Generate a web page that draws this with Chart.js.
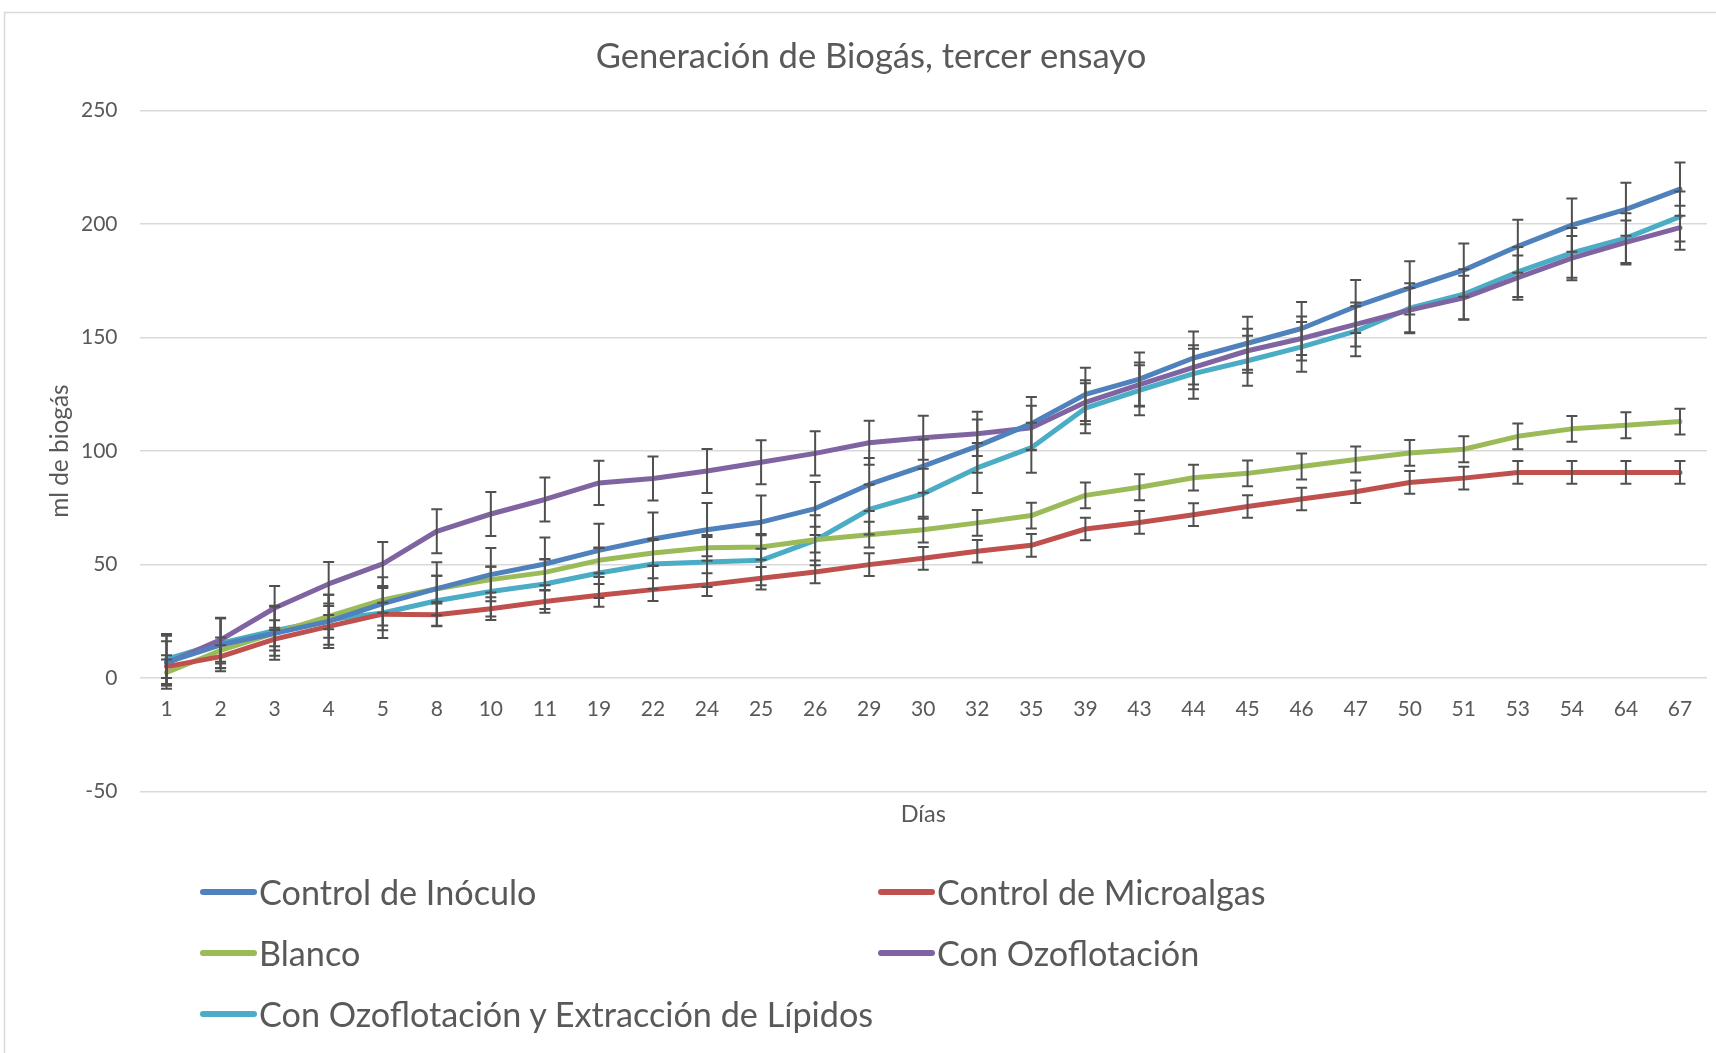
<!DOCTYPE html>
<html>
<head>
<meta charset="utf-8">
<script src="https://cdn.jsdelivr.net/npm/chart.js@4.4.0/dist/chart.umd.min.js"></script>
<style>
  html, body { margin: 0; padding: 0; background: #fff; }
  #wrap { position: relative; width: 1716px; height: 1053px; overflow: hidden; }
  #legend .item {
    position: absolute; display: flex; align-items: center;
    font-family: Lato, sans-serif; font-size: 34.2px; color: #595959;
    height: 44px; line-height: 44px; white-space: nowrap;
  }
  #legend .swatch { width: 57px; height: 6px; border-radius: 3px; margin-right: 2px; }
</style>
</head>
<body>
<div id="wrap">
  <canvas id="chart" width="1716" height="1053"></canvas>
  <div id="legend"></div>
</div>
<script>
// days (categories)
var days = ['1', '2', '3', '4', '5', '8', '10', '11', '19', '22', '24', '25', '26', '29', '30',
            '32', '35', '39', '43', '44', '45', '46', '47', '50', '51', '53', '54', '64', '67'];

var seriesNames = ['Control de Inóculo', 'Control de Microalgas', 'Blanco', 'Con Ozoflotación',
                   'Con Ozoflotación y Extracción de Lípidos'];
var seriesColors = ['#4F81BD', '#C0504D', '#9BBB59', '#8064A2', '#4BACC6'];

// ml of biogas per series
var controlInoculo = [7, 14.7, 19.8, 25, 32.8, 39.4, 45.6, 50.3, 56.3, 61.3, 65.4, 68.7, 74.7, 85.3, 93.4,
                      102.2, 112.1, 125, 131.7, 141, 147.5, 154, 163.7, 171.9, 179.7, 190.2, 199.5, 206.5, 215.4];
var controlMicroalgas = [5.1, 9.5, 17.2, 22.8, 28.2, 27.9, 30.6, 33.8, 36.5, 39, 41.2, 44, 46.8, 50, 52.8,
                         55.9, 58.5, 65.7, 68.6, 72, 75.6, 78.9, 82.1, 86.2, 88.1, 90.6, 90.6, 90.6, 90.6];
var blanco = [2.5, 12.2, 19.8, 27.2, 34.5, 39.4, 43.4, 46.6, 51.9, 55.1, 57.4, 57.8, 61, 63.2, 65.4,
              68.4, 71.6, 80.5, 84.1, 88.3, 90.2, 93.2, 96.3, 99.2, 100.8, 106.5, 109.8, 111.4, 113];
var conOzoflotacion = [6.6, 16.9, 30.9, 41.5, 50.3, 64.7, 72.3, 78.7, 86, 87.9, 91.2, 95.1, 99, 103.7, 105.9,
                       107.6, 110.3, 121.5, 129.3, 136.9, 144.2, 149.6, 155.8, 162.1, 167.5, 176.4, 185, 191.9, 198.4];
var conOzoLipidos = [8.4, 15.4, 20.9, 25.7, 28.7, 34.1, 38.2, 41.5, 46.3, 50.3, 51.2, 51.9, 60.7, 74.3, 81.2,
                     92.6, 101.5, 118.9, 126.8, 134.1, 139.8, 145.9, 152.8, 162.9, 169.1, 178.9, 187.3, 193.8, 203.3];

// +/- error bar size per series
var seriesErrors = [11.7, 5, 5.7, 9.7, 11];

var yTicks = [-50, 0, 50, 100, 150, 200, 250];

var allSeries = [controlInoculo, controlMicroalgas, blanco, conOzoflotacion, conOzoLipidos];

var textColor = '#595959';
var gridColor = '#D9D9D9';

var datasets = allSeries.map(function (vals, i) {
  return {
    label: seriesNames[i],
    data: vals,
    errorBar: seriesErrors[i],
    borderColor: seriesColors[i],
    backgroundColor: seriesColors[i],
    borderWidth: 5,
    borderCapStyle: 'round',
    borderJoinStyle: 'round',
    pointRadius: 0,
    pointHoverRadius: 0,
    tension: 0,
    fill: false
  };
});

// error bars drawn through the y scale
var errorBarPlugin = {
  id: 'errorBars',
  afterDatasetsDraw: function (chart) {
    var ctx = chart.ctx;
    var y = chart.scales.y;
    ctx.save();
    ctx.strokeStyle = '#505050';
    ctx.lineWidth = 2;
    chart.data.datasets.forEach(function (ds, i) {
      var meta = chart.getDatasetMeta(i);
      meta.data.forEach(function (pt, j) {
        var v = ds.data[j];
        var top = y.getPixelForValue(v + ds.errorBar);
        var bot = y.getPixelForValue(v - ds.errorBar);
        var x = pt.x;
        ctx.beginPath();
        ctx.moveTo(x, top); ctx.lineTo(x, bot);
        ctx.moveTo(x - 5.5, top); ctx.lineTo(x + 5.5, top);
        ctx.moveTo(x - 5.5, bot); ctx.lineTo(x + 5.5, bot);
        ctx.stroke();
      });
    });
    ctx.restore();
  }
};

// light frame around the chart
var framePlugin = {
  id: 'frame',
  beforeDraw: function (chart) {
    var ctx = chart.ctx;
    ctx.save();
    ctx.strokeStyle = gridColor;
    ctx.lineWidth = 1.5;
    ctx.strokeRect(4.5, 12.5, 1900, 1200);
    ctx.restore();
  }
};

var ctx = document.getElementById('chart').getContext('2d');
var myChart = new Chart(ctx, {
  type: 'line',
  data: { labels: days, datasets: datasets },
  plugins: [framePlugin, errorBarPlugin],
  options: {
    responsive: false,
    animation: false,
    devicePixelRatio: 1,
    layout: { padding: { left: 35, top: 0, right: 9, bottom: 261.3 } },
    plugins: {
      legend: { display: false },
      tooltip: { enabled: false },
      title: {
        display: true,
        text: 'Generación de Biogás, tercer ensayo',
        color: textColor,
        font: { family: 'Lato', size: 34.6, weight: 'normal', lineHeight: 1.2 },
        padding: { top: 36.2, bottom: 32.8 }
      }
    },
    scales: {
      x: {
        type: 'category',
        offset: true,
        position: { y: 0 },
        grid: { display: false, drawTicks: false },
        border: { display: false },
        ticks: {
          color: textColor,
          padding: 18,
          maxRotation: 0,
          autoSkip: false,
          font: { family: 'Lato', size: 21, lineHeight: 1.2 }
        },
        title: {
          display: true,
          text: 'Días',
          color: textColor,
          font: { family: 'Lato', size: 23.5, lineHeight: 1.2 },
          padding: { top: 60.5, bottom: 0 }
        }
      },
      y: {
        min: -50,
        max: 250,
        afterBuildTicks: function (scale) {
          scale.ticks = yTicks.map(function (v) { return { value: v }; });
        },
        afterFit: function (scale) { scale.width = 104.5; },
        grid: { color: gridColor, lineWidth: 1.5, drawTicks: false },
        border: { display: false },
        ticks: {
          color: textColor,
          padding: 22,
          font: { family: 'Lato', size: 21, lineHeight: 1.2 }
        },
        title: {
          display: true,
          text: 'ml de biogás',
          color: textColor,
          font: { family: 'Lato', size: 24.4, lineHeight: 1.2 },
          padding: { top: 10.4, bottom: 0 }
        }
      }
    }
  }
});

// two-column legend under the plot
var legendPos = [[200, 892], [878, 892], [200, 953], [878, 953], [200, 1014]];
var legendBox = document.getElementById('legend');
seriesNames.forEach(function (name, i) {
  var item = document.createElement('div');
  item.className = 'item';
  item.style.left = legendPos[i][0] + 'px';
  item.style.top = (legendPos[i][1] - 22) + 'px';
  var sw = document.createElement('span');
  sw.className = 'swatch';
  sw.style.background = seriesColors[i];
  var tx = document.createElement('span');
  tx.textContent = name;
  item.appendChild(sw);
  item.appendChild(tx);
  legendBox.appendChild(item);
});
</script>
</body>
</html>
